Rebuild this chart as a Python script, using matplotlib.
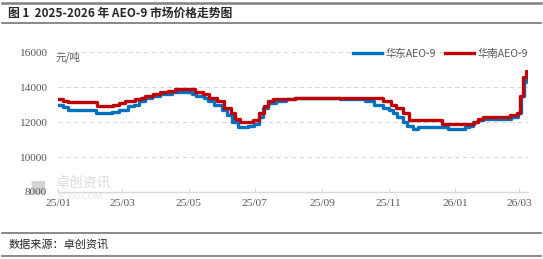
import pandas as pd
import matplotlib.pyplot as plt
import matplotlib.dates as mdates
from matplotlib.lines import Line2D

plt.rcParams['font.family'] = ['Noto Sans CJK SC', 'DejaVu Sans']

# change points of the two price series (yuan/ton)
east_dates = ['2025-01-01', '2025-01-06', '2025-01-10', '2025-02-05', '2025-02-20',
              '2025-02-26', '2025-03-06', '2025-03-12', '2025-03-16', '2025-03-22',
              '2025-03-28', '2025-04-05', '2025-04-16', '2025-05-04', '2025-05-08',
              '2025-05-15', '2025-05-19', '2025-05-24', '2025-06-01', '2025-06-05',
              '2025-06-10', '2025-06-15', '2025-06-25', '2025-06-30', '2025-07-05',
              '2025-07-08', '2025-07-13', '2025-07-20', '2025-07-30', '2025-08-07',
              '2025-09-17', '2025-10-10', '2025-10-18', '2025-10-27', '2025-11-01',
              '2025-11-05', '2025-11-09', '2025-11-14', '2025-11-18', '2025-11-23',
              '2025-11-28', '2025-12-25', '2026-01-10', '2026-01-14', '2026-01-17',
              '2026-01-22', '2026-01-27', '2026-02-21', '2026-02-28', '2026-03-03',
              '2026-03-05', '2026-03-07', '2026-03-09']
east_prices = [12950, 12850, 12700, 12500, 12600,
               12700, 12900, 13000, 13200, 13400,
               13500, 13600, 13700, 13600, 13500,
               13400, 13200, 13000, 12700, 12400,
               12000, 11700, 11800, 11900, 12300,
               12800, 13100, 13200, 13300, 13400,
               13300, 13200, 13000, 12800, 12700,
               12500, 12300, 12000, 11800, 11600,
               11700, 11600, 11700, 11800, 12000,
               12100, 12200, 12300, 12500, 13500,
               14300, 14600, 14700]

south_dates = ['2025-01-01', '2025-01-06', '2025-01-10', '2025-02-06', '2025-02-21',
               '2025-02-26', '2025-03-04', '2025-03-13', '2025-03-18', '2025-03-22',
               '2025-03-29', '2025-04-05', '2025-04-12', '2025-04-19', '2025-05-07',
               '2025-05-14', '2025-05-20', '2025-05-27', '2025-06-03', '2025-06-09',
               '2025-06-13', '2025-06-17', '2025-06-29', '2025-07-05', '2025-07-09',
               '2025-07-13', '2025-07-18', '2025-08-07', '2025-10-27', '2025-11-03',
               '2025-11-08', '2025-11-14', '2025-11-20', '2025-12-20', '2026-01-18',
               '2026-01-22', '2026-01-27', '2026-02-20', '2026-02-27', '2026-03-02',
               '2026-03-04', '2026-03-07', '2026-03-09']
south_prices = [13300, 13200, 13150, 12900, 13000,
                13100, 13200, 13300, 13400, 13500,
                13600, 13700, 13800, 13900, 13700,
                13600, 13400, 13200, 12800, 12500,
                12200, 12000, 12100, 12500, 12900,
                13200, 13300, 13400, 13200, 13000,
                12800, 12500, 12100, 11900, 12000,
                12200, 12300, 12400, 12500, 13500,
                14600, 14900, 14900]

tick_dates = ['2025-01-01', '2025-03-01', '2025-05-01', '2025-07-01',
              '2025-09-01', '2025-11-01', '2026-01-01', '2026-03-01']
y_ticks = [8000, 10000, 12000, 14000, 16000]

east = pd.Series(east_prices, index=pd.to_datetime(east_dates))
south = pd.Series(south_prices, index=pd.to_datetime(south_dates))

fig = plt.figure(figsize=(5.43, 2.59), dpi=100)
ax = fig.add_axes([0.1068, 0.2587, 0.8656, 0.5403])

ax.plot(east.index, east.values, color='#0070C0', lw=2.4, drawstyle='steps-post',
        label='华东AEO-9', zorder=3)
ax.plot(south.index, south.values, color='#C00000', lw=2.4, drawstyle='steps-post',
        label='华南AEO-9', zorder=4)

ax.set_ylim(8000, 16000)
ax.set_xlim(pd.Timestamp('2025-01-01'), pd.Timestamp('2026-03-09'))
ax.set_yticks(y_ticks)
ax.set_xticks(pd.to_datetime(tick_dates))
ax.xaxis.set_major_formatter(mdates.DateFormatter('%y/%m'))

for v in y_ticks[1:]:
    ax.axhline(v, color='#d9d9d9', lw=0.8, ls=(0, (4, 3)), zorder=1)

for s in ['top', 'right', 'left']:
    ax.spines[s].set_visible(False)
ax.spines['bottom'].set_color('#d9d9d9')
ax.spines['bottom'].set_linewidth(1)
ax.tick_params(axis='y', length=0, pad=8, labelsize=8.2, labelcolor='#595959')
ax.tick_params(axis='x', direction='in', length=3, color='#d9d9d9',
               labelsize=8.2, labelcolor='#595959', pad=5)
for lab in ax.get_xticklabels() + ax.get_yticklabels():
    lab.set_family(['Liberation Serif', 'DejaVu Serif'])

ax.text(-0.006, 1.005, '元/吨', transform=ax.transAxes, fontsize=7.5,
        color='#595959', va='top', ha='left')

leg = ax.legend(loc='upper right', bbox_to_anchor=(1.02, 1.09), ncol=2, frameon=False,
                fontsize=7.5, handlelength=2.8, columnspacing=0.9, handletextpad=0.3)
for t in leg.get_texts():
    t.set_color('#595959')

# watermark, drawn under the tick labels
ax.text(-0.062, 0.02, '■', transform=ax.transAxes, fontsize=12, color='#d4d4d4',
        va='center', ha='left', zorder=0.1, clip_on=False)
ax.text(-0.006, 0.064, '卓创资讯', transform=ax.transAxes, fontsize=10,
        color='#dcdcdc', va='center', ha='left', zorder=0.1, clip_on=False)
ax.text(-0.002, -0.036, 'SCI99.COM', transform=ax.transAxes, fontsize=6.5,
        color='#e3e3e3', va='center', ha='left', zorder=0.1, clip_on=False,
        family=['Liberation Serif'])

# header / footer frame
for y, lw in [(0.988, 1.8), (0.911, 1.3), (0.1, 1.3), (0.012, 1.3)]:
    fig.add_artist(Line2D([0.004, 0.996], [y, y], color='#808080', lw=lw,
                          transform=fig.transFigure))
fig.text(0.015, 0.95, '图 1  2025-2026 年 AEO-9 市场价格走势图', fontsize=8.5,
         color='#262626', va='center', ha='left', weight='bold')
fig.text(0.015, 0.057, '数据来源：卓创资讯', fontsize=8, color='#262626',
         va='center', ha='left')

plt.savefig('out.png', dpi=100)
